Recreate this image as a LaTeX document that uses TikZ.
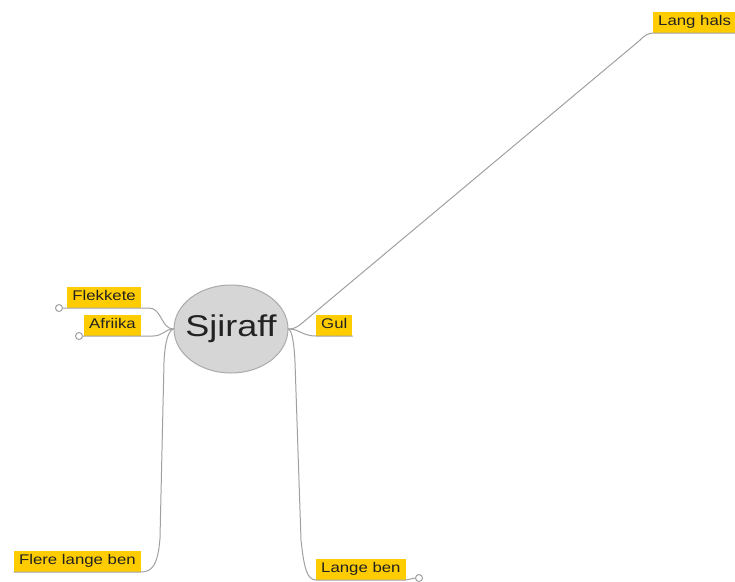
\documentclass[tikz,border=0pt]{standalone}
\usepackage{fontspec}
\setmainfont{Liberation Sans}
\newfontfamily\mapfont[FakeStretch=1.2]{Liberation Sans}
\usetikzlibrary{shapes.geometric}
\definecolor{topicyellow}{HTML}{FFCC00}
\definecolor{linkgrey}{HTML}{A0A0A0}
\definecolor{centrefill}{HTML}{D6D6D6}
\definecolor{centreedge}{HTML}{AAAAAA}
\definecolor{labeltext}{HTML}{222222}
\begin{document}
\begin{tikzpicture}[x=1pt,y=-1pt,
  topic/.style={fill=topicyellow, text=labeltext, font=\mapfont\fontsize{14}{16}\selectfont,
    inner xsep=5pt, inner ysep=4pt, text height=10pt, text depth=3pt},
  centre/.style={ellipse, fill=centrefill, draw=centreedge, line width=1pt,
    minimum width=114pt, minimum height=88pt, inner sep=0pt,
    text=labeltext, font=\mapfont\fontsize{30}{32}\selectfont},
  link/.style={draw=linkgrey, line width=1pt, line cap=round},
  knob/.style={circle, draw=linkgrey, fill=white, line width=1pt, minimum size=7pt, inner sep=0pt}]
\useasboundingbox (0,0) rectangle (735,581);

% central topic (text boxed to zero width so the ellipse keeps its size)
\node[centre] (sj) at (231,329) {\makebox[0pt]{Sjiraff}};
\coordinate (jl) at (sj.west);
\coordinate (jr) at (sj.east);

% subtopics
\node[topic, anchor=south east] (fk) at (141,308) {Flekkete};
\node[topic, anchor=south east] (af) at (141,336) {Afriika};
\node[topic, anchor=south east] (fl) at (141,572) {Flere lange ben};
\node[topic, anchor=south west] (gu) at (316,336) {Gul};
\node[topic, anchor=south west] (lh) at (653,33) {Lang hals};
\node[topic, anchor=south west] (lb) at (316,580) {Lange ben};

% collapse knobs
\node[knob] (kfk) at (59,308) {};
\node[knob] (kaf) at (79,336) {};
\node[knob] (klb) at (419,578) {};

% left branches
\draw[link] (kfk.east) -- (fk.south west) -- (fk.south east) -- (149,308)
  .. controls (162,308) and (161,329) .. (jl);
\draw[link] (kaf.east) -- (af.south west) -- (af.south east) -- (153,336)
  .. controls (163,336) and (165,329) .. (jl);
\draw[link] (jl) .. controls (168,331) and (165,342) .. (164,362)
  -- (160,538) .. controls (158,565) and (152,572) .. (fl.south east) -- (fl.south west);

% right branches
\draw[link] (jr) .. controls (300,329) and (302,336) .. (gu.south west) -- (gu.south east);
\draw[link] (jr) .. controls (294,329) and (297,327) .. (301,324)
  -- (639,41) .. controls (644,36) and (648,33) .. (lh.south west) -- (735,33);
\draw[link] (jr) .. controls (292,331) and (294,342) .. (295,362)
  -- (301,540) .. controls (304,568) and (307,580) .. (lb.south west) -- (lb.south east) -- (klb.west);
\end{tikzpicture}
\end{document}
